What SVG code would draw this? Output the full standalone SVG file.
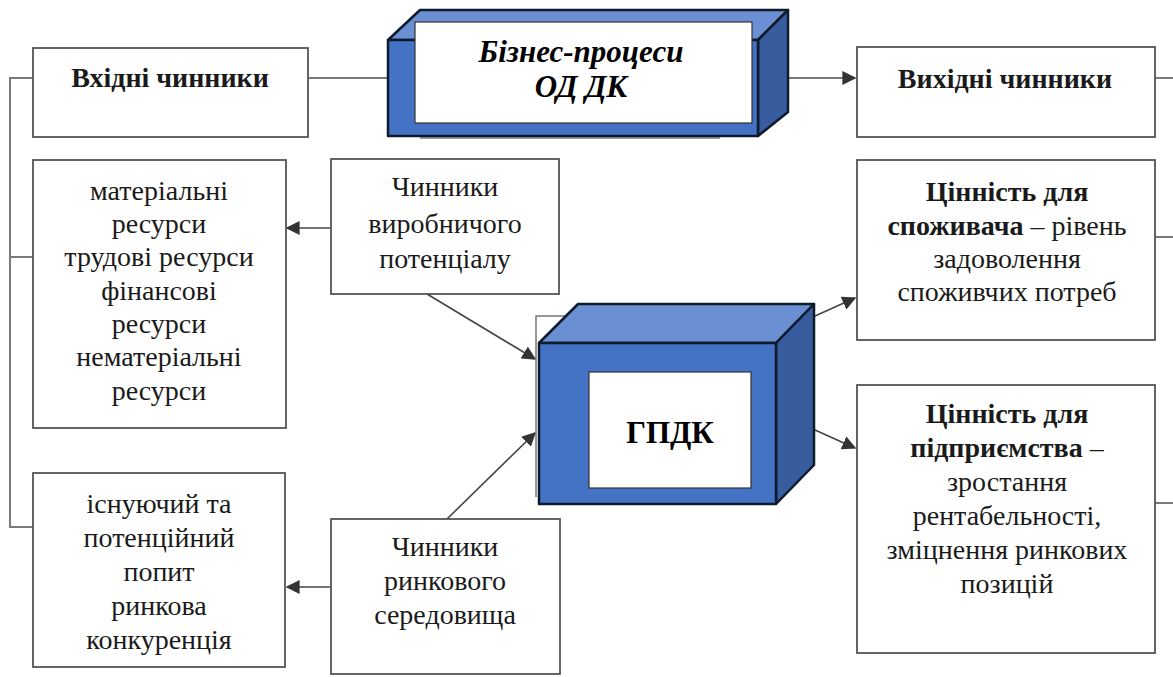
<svg xmlns="http://www.w3.org/2000/svg" width="1173" height="677" viewBox="0 0 1173 677">
<style>
.box{fill:#fff;stroke:#555;stroke-width:1.8}
.t{font-family:"Liberation Serif","Times New Roman",serif;font-size:28px;fill:#1a1a1a;text-anchor:middle}
.b{font-weight:bold}
.ttl{font-size:31px;font-style:italic;font-weight:bold;fill:#000}
.big{font-size:31px;font-weight:bold;fill:#000}
.ln{fill:none;stroke:#7a7a7a;stroke-width:2}
.ar{fill:none;stroke:#444;stroke-width:1.6}
.cube{stroke:#0f1a2c;stroke-width:2.5;stroke-linejoin:round}
.front{fill:#4472c4}
.top{fill:#6a8fd2}
.side{fill:#375d9e}
</style>
<defs>
<marker id="ah" viewBox="0 0 10 10" refX="9" refY="5" markerWidth="14" markerHeight="14" markerUnits="userSpaceOnUse" orient="auto">
<path d="M0,0 L10,5 L0,10 z" fill="#333"/>
</marker>
</defs>
<rect width="1173" height="677" fill="#fff"/>

<g id="connectors">
<path class="ln" d="M33,78 H10 V527 H33"/>
<path class="ln" d="M10,257 H33"/>
<path class="ln" d="M308,78 H420"/>
<path class="ln" d="M760,78 H855" marker-end="url(#ah)"/>
<path class="ln" d="M1155,78 H1173"/>
<path class="ln" d="M1155,237 H1173"/>
<path class="ln" d="M1155,503 H1173"/>
<path class="ar" d="M331,228 H287" marker-end="url(#ah)"/>
<path class="ar" d="M331,587 H287" marker-end="url(#ah)"/>
<path class="ar" d="M427,294 L535,359" marker-end="url(#ah)"/>
<path class="ar" d="M447,519 L535,433" marker-end="url(#ah)"/>
<path class="ar" d="M815,316 L855,298" marker-end="url(#ah)"/>
<path class="ar" d="M815,430 L855,448" marker-end="url(#ah)"/>
<line x1="420" y1="138" x2="720" y2="138" stroke="#9a9a9a" stroke-width="2"/>
<path d="M536,497 V316 H570" fill="none" stroke="#777" stroke-width="1.5"/>
</g>

<g id="input">
<rect class="box" x="33" y="48" width="275" height="89"/>
<text class="t b" x="170" y="87">Вхідні чинники</text>
</g>

<g id="business-processes">
<polygon class="cube top" points="388,40 420,10 788,10 758,40"/>
<polygon class="cube side" points="758,40 788,10 788,112 758,136"/>
<rect class="cube front" x="388" y="40" width="370" height="96"/>
<rect x="415" y="22" width="337" height="101" fill="#fff" stroke="#333" stroke-width="1.2"/>
<text class="t ttl" x="581" y="62">Бізнес-процеси</text>
<text class="t ttl" x="581" y="97">ОД ДК</text>
</g>

<g id="output">
<rect class="box" x="857" y="47" width="298" height="90"/>
<text class="t b" x="1005" y="88">Вихідні чинники</text>
</g>

<g id="resources">
<rect class="box" x="33" y="160" width="253" height="268"/>
<text class="t" x="159" y="200">матеріальні</text>
<text class="t" x="159" y="233">ресурси</text>
<text class="t" x="159" y="266">трудові ресурси</text>
<text class="t" x="159" y="300">фінансові</text>
<text class="t" x="159" y="333">ресурси</text>
<text class="t" x="159" y="366">нематеріальні</text>
<text class="t" x="159" y="400">ресурси</text>
</g>

<g id="production-factors">
<rect class="box" x="331" y="159" width="228" height="135"/>
<text class="t" x="445" y="196">Чинники</text>
<text class="t" x="445" y="233">виробничого</text>
<text class="t" x="445" y="268">потенціалу</text>
</g>

<g id="gpdk">
<polygon class="cube top" points="539,343 578,304 814,304 776,343"/>
<polygon class="cube side" points="776,343 814,304 814,465 776,504"/>
<rect class="cube front" x="539" y="343" width="237" height="161"/>
<rect x="589" y="372" width="162" height="116" fill="#fff" stroke="#333" stroke-width="1.2"/>
<text class="t big" x="670" y="443">ГПДК</text>
</g>

<g id="consumer-value">
<rect class="box" x="857" y="160" width="298" height="180"/>
<text class="t" x="1007" y="201"><tspan class="b">Цінність для</tspan></text>
<text class="t" x="1007" y="235"><tspan class="b">споживача</tspan> – рівень</text>
<text class="t" x="1007" y="268">задоволення</text>
<text class="t" x="1007" y="301">споживчих потреб</text>
</g>

<g id="enterprise-value">
<rect class="box" x="857" y="385" width="298" height="268"/>
<text class="t" x="1007" y="423"><tspan class="b">Цінність для</tspan></text>
<text class="t" x="1007" y="457"><tspan class="b">підприємства</tspan> –</text>
<text class="t" x="1007" y="491">зростання</text>
<text class="t" x="1007" y="525">рентабельності,</text>
<text class="t" x="1007" y="559">зміцнення ринкових</text>
<text class="t" x="1007" y="593">позицій</text>
</g>

<g id="demand">
<rect class="box" x="33" y="473" width="252" height="194"/>
<text class="t" x="159" y="513">існуючий та</text>
<text class="t" x="159" y="547">потенційний</text>
<text class="t" x="159" y="581">попит</text>
<text class="t" x="159" y="615">ринкова</text>
<text class="t" x="159" y="649">конкуренція</text>
</g>

<g id="market-factors">
<rect class="box" x="331" y="519" width="229" height="155"/>
<text class="t" x="445" y="556">Чинники</text>
<text class="t" x="445" y="590">ринкового</text>
<text class="t" x="445" y="624">середовища</text>
</g>
</svg>
